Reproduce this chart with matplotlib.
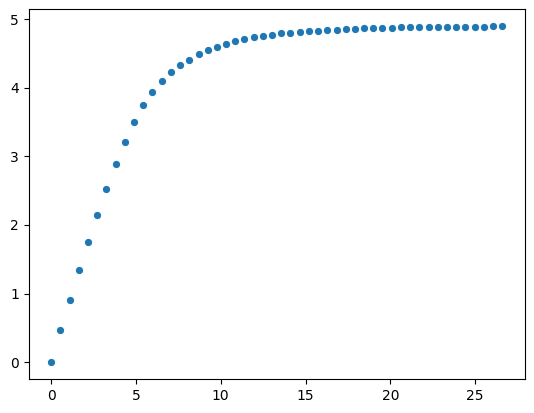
import matplotlib
matplotlib.use("Agg")
import matplotlib.pyplot as plt

# time values (x) and speed values (y)
t = [0.00, 0.54, 1.09, 1.63, 2.17, 2.71, 3.26, 3.80, 4.34, 4.89,
     5.43, 5.97, 6.51, 7.06, 7.60, 8.14, 8.69, 9.23, 9.77, 10.31,
     10.86, 11.40, 11.94, 12.49, 13.03, 13.57, 14.11, 14.66, 15.20, 15.74,
     16.29, 16.83, 17.37, 17.91, 18.46, 19.00, 19.54, 20.09, 20.63, 21.17,
     21.71, 22.26, 22.80, 23.34, 23.89, 24.43, 24.97, 25.51, 26.06, 26.60]
v = [0.00, 0.47, 0.90, 1.34, 1.75, 2.14, 2.52, 2.89, 3.21, 3.50,
     3.75, 3.94, 4.10, 4.23, 4.33, 4.41, 4.49, 4.55, 4.59, 4.64,
     4.68, 4.71, 4.74, 4.76, 4.77, 4.79, 4.80, 4.81, 4.82, 4.83,
     4.84, 4.84, 4.85, 4.86, 4.87, 4.87, 4.87, 4.87, 4.88, 4.88,
     4.89, 4.89, 4.89, 4.89, 4.89, 4.89, 4.89, 4.89, 4.90, 4.90]

fig = plt.figure(figsize=(5.34, 4.13), dpi=100)
ax = fig.add_subplot(1, 1, 1)
fig.subplots_adjust(left=0.0537, right=0.9826, bottom=0.0823, top=0.978)

ax.scatter(t, v, s=36, color='#1f77b4', edgecolors='white', linewidths=0.75)

plt.savefig('out.png', dpi=100)
